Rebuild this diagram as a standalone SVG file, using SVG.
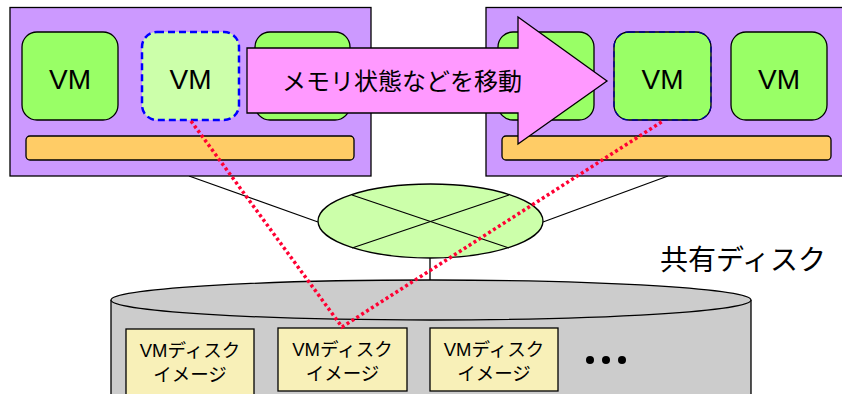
<svg xmlns="http://www.w3.org/2000/svg" width="842" height="394" viewBox="0 0 842 394">
<style>
.host{fill:#CC99FF;stroke:#000;stroke-width:1.3}
.vm{fill:#99FF66;stroke:#000;stroke-width:1.3}
.bar{fill:#FFCC66;stroke:#000;stroke-width:1.3}
.vmt{font-family:"Liberation Sans",Arial,sans-serif;font-size:28px;fill:#000;text-anchor:middle}
.jp{font-family:"Liberation Sans","Noto Sans CJK JP",sans-serif;fill:#000;text-anchor:middle}
.img{fill:#F8F0B8;stroke:#000;stroke-width:1.3}
.ln{stroke:#000;stroke-width:1.3;fill:none}
.red{stroke:#FF0033;stroke-width:3.5;stroke-dasharray:3 2.8;fill:none}
</style>
<g id="connectors">
<line class="ln" x1="189" y1="176" x2="318" y2="222"/>
<line class="ln" x1="543" y1="222" x2="668" y2="176"/>
<line class="ln" x1="430" y1="258" x2="430" y2="281"/>
</g>
<g id="host-left">
<rect class="host" x="10" y="7.5" width="361" height="168.5"/>
<rect class="bar" x="26" y="136" width="328" height="24" rx="4"/>
</g>
<g id="vm-l1"><rect class="vm" x="22" y="32" width="96" height="88" rx="15"/><text class="vmt" x="70" y="89">VM</text></g>
<g id="vm-l2"><rect x="142" y="32" width="97" height="88" rx="15" fill="#CCFFAA" stroke="#0000FF" stroke-width="2.5" stroke-dasharray="7 4"/><text class="vmt" x="190.5" y="89">VM</text></g>
<g id="vm-l3"><rect class="vm" x="255" y="32" width="95" height="88" rx="15"/></g>
<g id="host-right">
<rect class="host" x="486" y="7.5" width="370" height="168.5"/>
<rect class="bar" x="502" y="136" width="329" height="24" rx="4"/>
</g>
<g id="vm-r1"><rect class="vm" x="498" y="32" width="96" height="88" rx="15"/></g>
<g id="vm-r2"><rect class="vm" x="614" y="32" width="97" height="88" rx="15"/><rect x="614" y="32" width="97" height="88" rx="15" fill="none" stroke="#000099" stroke-width="1.3" stroke-dasharray="6 4"/><text class="vmt" x="662.5" y="89">VM</text></g>
<g id="vm-r3"><rect class="vm" x="731" y="32" width="96" height="88" rx="15"/><text class="vmt" x="779" y="89">VM</text></g>
<g id="migrate-arrow">
<polygon points="247,48 518,48 518,17 607,81 518,144 518,113 247,113" fill="#FF99FF" stroke="#000" stroke-width="1.3"/>
<text class="jp" x="402" y="90" font-size="24">メモリ状態などを移動</text>
</g>
<g id="switch">
<ellipse cx="430.5" cy="221" rx="112.5" ry="37" fill="#CCFFAA" stroke="#000" stroke-width="1.3"/>
<line class="ln" x1="352" y1="195" x2="509" y2="248"/>
<line class="ln" x1="352" y1="248" x2="509" y2="195"/>
</g>
<g id="shared-disk">
<path d="M111,300 L111,410 A320,20 0 0 0 751,410 L751,300" fill="#CCCCCC" stroke="#000" stroke-width="1.3"/>
<ellipse cx="431" cy="300" rx="320" ry="20" fill="#CCCCCC" stroke="#000" stroke-width="1.3"/>
<text class="jp" x="743" y="270" font-size="28">共有ディスク</text>
</g>
<g id="img1"><rect class="img" x="126" y="329" width="128" height="75"/><text class="jp" x="190" y="357" font-size="18.5">VMディスク</text><text class="jp" x="190" y="381" font-size="18.5">イメージ</text></g>
<g id="img2"><rect class="img" x="278" y="328" width="129" height="63"/><text class="jp" x="342.5" y="356" font-size="18.5">VMディスク</text><text class="jp" x="342.5" y="380" font-size="18.5">イメージ</text></g>
<g id="img3"><rect class="img" x="430" y="328" width="128" height="63"/><text class="jp" x="494" y="356" font-size="18.5">VMディスク</text><text class="jp" x="494" y="380" font-size="18.5">イメージ</text></g>
<g id="ellipsis">
<circle cx="590" cy="360" r="4"/><circle cx="606" cy="360" r="4"/><circle cx="622" cy="360" r="4"/>
</g>
<g id="migration-path">
<polyline class="red" points="191,121 342,327 663,121"/>
</g>
</svg>
